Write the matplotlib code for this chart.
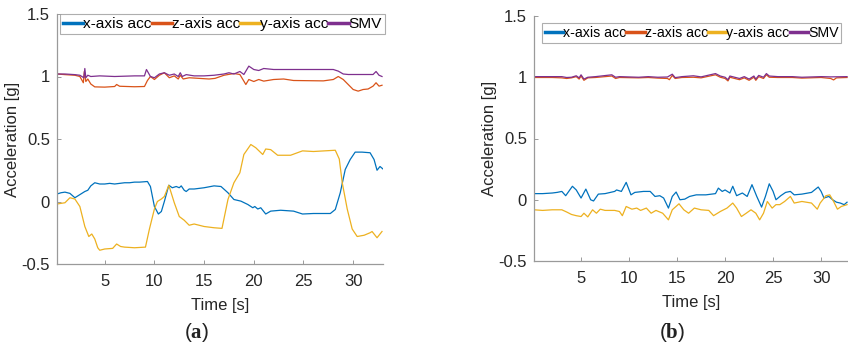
import matplotlib
matplotlib.use("Agg")
import matplotlib.pyplot as plt
import numpy as np

plt.rcParams['font.family'] = ['Liberation Sans', 'DejaVu Sans']
plt.rcParams['mathtext.fontset'] = 'custom'
plt.rcParams['mathtext.bf'] = 'Liberation Serif:bold'
plt.rcParams['mathtext.rm'] = 'Liberation Serif'

# ---------------- data: panel (a) ----------------
a_x_acc = [(0.2,0.06),(0.6,0.07),(1.0,0.075),(1.5,0.065),(2.0,0.03),(2.5,0.055),(3.0,0.08),(3.3,0.09),
           (3.6,0.125),(4.0,0.15),(4.5,0.14),(5.0,0.14),(5.5,0.145),(6.0,0.14),(6.5,0.145),(7.0,0.15),
           (7.5,0.15),(8.0,0.155),(8.5,0.155),(9.0,0.158),(9.3,0.16),(9.6,0.12),(10.0,-0.04),(10.4,-0.1),
           (10.7,-0.08),(11.0,0.0),(11.45,0.13),(11.8,0.11),(12.2,0.12),(12.5,0.11),(12.7,0.125),(13.0,0.09),
           (13.2,0.08),(13.5,0.1),(14.0,0.1),(14.5,0.105),(15.0,0.11),(16.0,0.125),(16.7,0.12),(17.4,0.07),
           (18.0,0.016),(18.7,0.003),(19.4,-0.024),(19.9,-0.05),(20.1,-0.04),(20.4,-0.06),(20.7,-0.05),
           (21.2,-0.1),(21.7,-0.077),(22.7,-0.07),(24.0,-0.077),(24.9,-0.1),(26.0,-0.096),(27.7,-0.096),
           (28.2,-0.064),(28.7,0.07),(29.2,0.256),(29.7,0.336),(30.2,0.395),(30.9,0.395),(31.7,0.39),
           (32.1,0.336),(32.4,0.25),(32.7,0.28),(33.0,0.26)]
a_z_acc = [(0.2,1.02),(1.0,1.015),(2.0,1.01),(2.5,1.0),(2.85,0.95),(2.95,1.04),(3.1,0.96),(3.3,0.98),
           (3.6,0.94),(4.0,0.917),(5.0,0.915),(6.0,0.92),(6.2,0.936),(6.5,0.922),(8.0,0.918),(9.0,0.92),
           (9.3,0.968),(9.6,1.0),(10.0,0.976),(10.5,1.01),(11.0,1.03),(11.5,0.99),(12.0,1.005),(12.4,0.98),
           (12.6,1.01),(12.9,0.98),(13.5,0.99),(14.5,0.985),(15.5,0.98),(16.1,0.985),(17.0,1.01),(18.0,1.024),
           (18.6,1.016),(19.0,0.963),(19.2,0.936),(19.5,0.976),(20.0,0.96),(20.5,0.976),(21.0,0.963),
           (22.0,0.976),(23.0,0.98),(24.0,0.968),(27.0,0.965),(28.0,0.976),(28.5,1.0),(29.0,0.976),
           (29.5,0.936),(30.0,0.896),(30.5,0.883),(31.0,0.896),(31.5,0.9),(32.0,0.923),(32.3,0.95),
           (32.6,0.923),(32.9,0.93)]
a_y_acc = [(0.2,-0.02),(0.6,-0.015),(1.0,-0.01),(1.5,0.03),(2.0,0.02),(2.5,-0.04),(3.0,-0.2),(3.4,-0.28),
           (3.7,-0.26),(4.0,-0.3),(4.3,-0.37),(4.5,-0.39),(5.0,-0.38),(5.8,-0.375),(6.2,-0.34),(6.6,-0.36),
           (7.0,-0.365),(8.0,-0.37),(9.1,-0.365),(9.5,-0.22),(10.0,-0.06),(10.3,0.0),(10.7,0.02),(11.0,0.04),
           (11.45,0.13),(12.0,-0.01),(12.5,-0.12),(13.0,-0.15),(13.5,-0.19),(14.0,-0.18),(15.0,-0.2),
           (16.0,-0.21),(16.8,-0.215),(17.4,0.016),(18.0,0.15),(18.6,0.23),(19.0,0.376),(19.7,0.456),
           (20.2,0.43),(20.9,0.376),(21.2,0.42),(21.7,0.415),(22.4,0.37),(23.7,0.37),(24.9,0.405),
           (26.0,0.4),(28.2,0.41),(28.6,0.34),(28.9,0.15),(29.4,-0.06),(29.9,-0.22),(30.4,-0.28),
           (31.1,-0.27),(31.7,-0.25),(31.9,-0.24),(32.4,-0.29),(32.9,-0.24)]
a_smv = [(0.2,1.02),(1.0,1.02),(2.0,1.015),(2.5,1.01),(2.9,0.99),(3.0,1.064),(3.1,0.99),(3.3,1.01),
         (3.6,1.0),(4.5,1.005),(6.0,1.0),(8.0,1.005),(9.0,1.005),(9.2,1.056),(9.6,1.0),(10.0,0.99),
         (10.5,1.02),(11.0,1.03),(11.5,1.01),(12.0,1.02),(12.4,1.0),(12.6,1.03),(12.8,1.0),(13.2,1.015),
         (14.0,1.005),(15.0,1.005),(16.0,1.01),(17.0,1.02),(17.5,1.03),(18.0,1.02),(18.6,1.04),(19.0,1.016),
         (19.5,1.083),(20.0,1.056),(20.5,1.048),(21.0,1.064),(22.0,1.056),(25.0,1.056),(28.0,1.056),
         (28.5,1.043),(29.0,1.02),(29.5,1.016),(32.0,1.016),(32.3,1.04),(32.6,1.01),(32.9,1.0)]

# ---------------- data: panel (b) ----------------
b_x_acc = [(0.1,0.05),(1.0,0.05),(2.0,0.055),(2.5,0.06),(3.0,0.068),(3.4,0.033),(4.1,0.11),(4.5,0.08),
           (5.0,0.014),(5.5,0.087),(6.0,0.0),(6.3,-0.01),(6.8,0.046),(7.5,0.05),(8.5,0.068),(8.7,0.08),
           (9.2,0.068),(9.7,0.142),(10.2,0.04),(10.6,0.06),(11.5,0.068),(12.2,0.068),(12.7,0.027),
           (13.2,0.033),(13.6,0.014),(14.1,-0.068),(14.5,0.027),(14.9,0.063),(15.3,0.0),(15.8,0.005),
           (16.3,0.027),(17.0,0.04),(18.0,0.04),(19.0,0.05),(19.3,0.095),(19.7,0.068),(20.0,0.08),
           (20.5,0.055),(20.8,0.11),(21.2,0.033),(21.8,0.055),(22.3,0.027),(22.8,0.123),(23.3,0.027),
           (23.8,-0.06),(24.2,0.027),(24.6,0.13),(25.0,0.068),(25.3,0.0),(25.8,0.033),(26.3,0.06),
           (26.8,0.068),(27.2,0.04),(28.0,0.046),(29.0,0.06),(29.7,0.104),(30.0,0.068),(30.3,0.014),
           (30.8,0.027),(31.2,0.0),(31.6,-0.02),(32.0,-0.027),(32.4,-0.04),(32.7,-0.02)]
b_z_acc = [(0.1,0.998),(2.0,0.998),(3.0,0.995),(3.5,0.99),(4.0,0.995),(4.5,1.005),(4.8,0.985),(5.0,1.01),
           (5.3,0.975),(5.7,0.995),(6.5,0.998),(8.2,1.01),(8.6,0.99),(9.0,0.998),(11.0,0.995),(12.0,0.998),
           (13.0,0.993),(14.0,0.99),(14.2,0.98),(14.5,1.015),(14.8,0.99),(15.5,0.998),(16.7,1.0),
           (17.5,0.995),(19.0,1.02),(19.5,1.0),(20.0,0.99),(20.3,0.97),(20.5,1.0),(21.0,0.99),(21.5,0.98),
           (22.0,0.995),(22.5,0.975),(23.0,1.0),(23.2,0.975),(23.5,1.005),(24.0,0.99),(24.3,1.02),
           (24.6,1.0),(25.5,0.998),(27.0,0.998),(28.0,0.993),(30.0,0.998),(31.0,0.99),(31.3,0.978),
           (31.6,0.995),(32.7,0.998)]
b_y_acc = [(0.1,-0.082),(1.0,-0.087),(2.0,-0.082),(3.0,-0.082),(3.5,-0.1),(4.0,-0.12),(4.5,-0.13),
           (5.0,-0.137),(5.3,-0.11),(5.7,-0.14),(6.2,-0.082),(6.6,-0.11),(7.0,-0.077),(7.5,-0.087),
           (8.5,-0.087),(9.0,-0.096),(9.3,-0.13),(9.7,-0.055),(10.3,-0.077),(10.8,-0.068),(11.2,-0.087),
           (11.8,-0.068),(12.3,-0.11),(12.8,-0.087),(13.5,-0.11),(14.1,-0.164),(14.5,-0.082),(15.2,-0.033),
           (15.7,-0.082),(16.2,-0.11),(16.8,-0.068),(17.5,-0.082),(18.3,-0.087),(18.8,-0.13),(19.5,-0.096),
           (20.2,-0.068),(20.8,-0.027),(21.2,-0.068),(21.7,-0.137),(22.2,-0.11),(22.7,-0.082),(23.2,-0.11),
           (23.6,-0.164),(24.0,-0.11),(24.4,-0.014),(24.9,-0.068),(25.3,-0.04),(25.7,-0.04),(26.2,-0.014),
           (26.8,0.027),(27.2,-0.027),(28.0,-0.014),(29.0,-0.027),(29.6,-0.077),(29.9,-0.027),(30.5,0.033),
           (30.9,0.04),(31.3,-0.014),(31.7,-0.077),(32.1,-0.055),(32.7,-0.04)]
b_smv = [(0.1,1.005),(2.0,1.005),(3.0,1.005),(3.5,0.998),(4.0,1.0),(4.5,1.012),(4.8,0.995),(5.0,1.02),
         (5.3,0.985),(5.7,1.0),(6.5,1.005),(8.2,1.02),(8.6,1.0),(9.0,1.005),(11.0,1.0),(12.0,1.005),
         (13.0,1.0),(14.0,1.002),(14.5,1.025),(14.8,0.997),(15.5,1.005),(16.7,1.012),(17.5,1.003),
         (19.0,1.03),(19.5,1.01),(20.0,1.0),(20.3,0.98),(20.5,1.01),(21.0,1.0),(21.5,0.99),(22.0,1.005),
         (22.5,0.985),(23.0,1.01),(23.2,0.985),(23.5,1.015),(24.0,1.0),(24.3,1.03),(24.6,1.01),
         (25.5,1.005),(27.0,1.005),(28.0,1.0),(30.0,1.005),(31.0,1.003),(32.7,1.005)]

series_names = ['x-axis acc', 'z-axis acc', 'y-axis acc', 'SMV']
colors = ['#0072BD', '#D95319', '#EDB120', '#7E2F8E']
xticks = [5, 10, 15, 20, 25, 30]
yticks = [-0.5, 0, 0.5, 1, 1.5]
ytick_labels = ['-0.5', '0', '0.5', '1', '1.5']

fig = plt.figure(figsize=(8.48, 3.48), dpi=100)
axA = fig.add_axes([57/848, 1-264/348, 326/848, 250/348])
axB = fig.add_axes([534/848, 1-261/348, 314/848, 245/348])

panels = [(axA, [a_x_acc, a_z_acc, a_y_acc, a_smv], (0.2, 33.0), (0.01, 1.0), 11.1,
           r'($\mathbf{a}$)', 197/848),
          (axB, [b_x_acc, b_z_acc, b_y_acc, b_smv], (0.1, 32.8), (0.025, 0.972), 10.2,
           r'($\mathbf{b}$)', 672/848)]

for ax, data, xl, legpos, legfs, tag, tx in panels:
    for s, name, c in zip(data, series_names, colors):
        t = [p[0] for p in s]
        v = [p[1] for p in s]
        ax.plot(t, v, color=c, lw=0.9, label=name)
    ax.set_xlim(*xl)
    ax.set_ylim(-0.5, 1.5)
    ax.set_xticks(xticks)
    ax.set_yticks(yticks)
    ax.set_yticklabels(ytick_labels)
    for sp in ['top', 'right']:
        ax.spines[sp].set_visible(False)
    for sp in ['left', 'bottom']:
        ax.spines[sp].set_color('#9a9a9a')
        ax.spines[sp].set_linewidth(0.9)
    ax.tick_params(direction='in', length=3, width=0.7, color='#9a9a9a',
                   labelsize=12, labelcolor='#262626')
    ax.tick_params(axis='x', pad=7)
    ax.tick_params(axis='y', pad=5)
    ax.set_xlabel('Time [s]', fontsize=12, color='#262626', labelpad=7)
    ax.set_ylabel('Acceleration [g]', fontsize=12, color='#262626', labelpad=1)
    leg = ax.legend(loc='upper left', ncol=4, fontsize=legfs, frameon=True, fancybox=False,
                    handlelength=1.3, handletextpad=0.0, columnspacing=0.0,
                    borderpad=0.2, borderaxespad=0.0,
                    bbox_to_anchor=legpos)
    leg.get_frame().set_edgecolor('#9a9a9a')
    leg.get_frame().set_linewidth(0.8)
    for h in leg.get_lines():
        h.set_linewidth(2.5)
    fig.text(tx, 1-333/348, tag, ha='center', va='center', fontsize=15, color='#222222')

fig.savefig('out.png', dpi=100)
